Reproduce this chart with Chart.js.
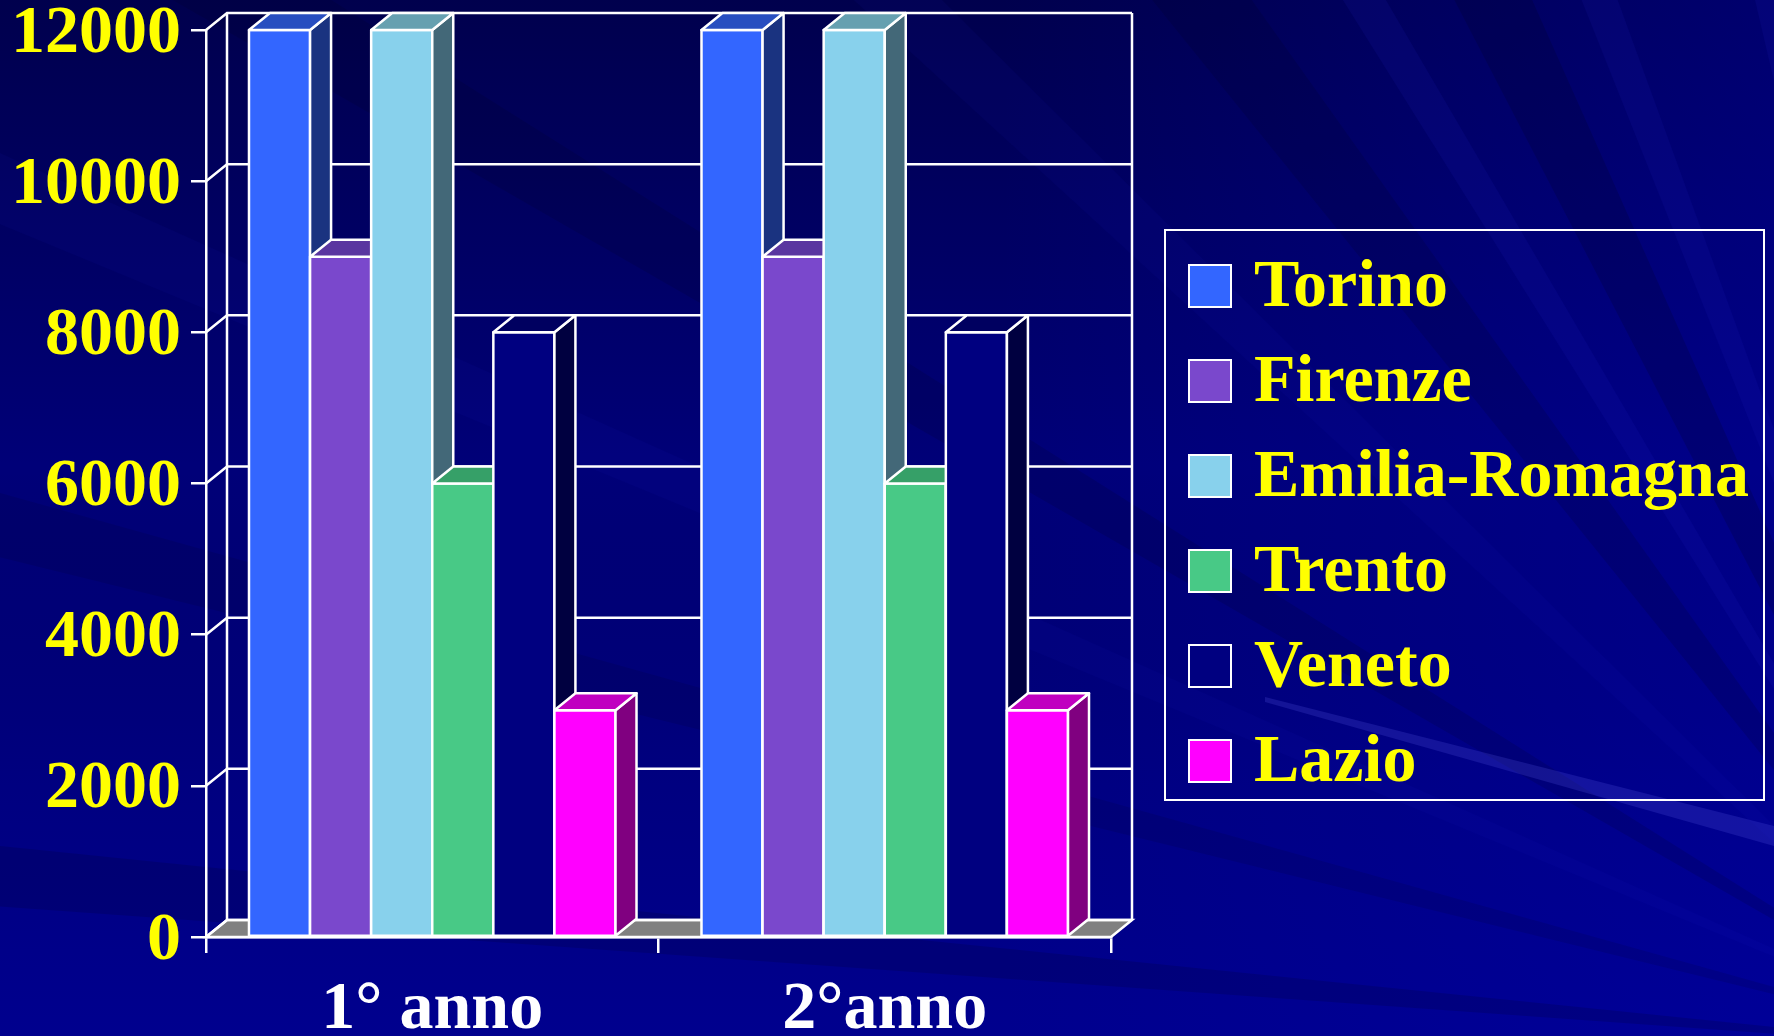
<!DOCTYPE html>
<html>
<head>
<meta charset="utf-8">
<script src="https://cdn.jsdelivr.net/npm/chart.js@4.4.0/dist/chart.umd.min.js"></script>
<style>
  html, body { margin: 0; padding: 0; background: #000078; overflow: hidden; }
  canvas { display: block; }
</style>
</head>
<body>
<canvas id="grafico" width="1774" height="1036"></canvas>
<script>
// dati
const categorie = ['1° anno', '2°anno'];
const regioni = ['Torino', 'Firenze', 'Emilia-Romagna', 'Trento', 'Veneto', 'Lazio'];
const torino  = [12000, 12000];
const firenze = [9000, 9000];
const emilia  = [12000, 12000];
const trento  = [6000, 6000];
const veneto  = [8000, 8000];
const lazio   = [3000, 3000];
const yTicks = [0, 2000, 4000, 6000, 8000, 10000, 12000];
const yTickLabels = ['0', '2000', '4000', '6000', '8000', '10000', '12000'];

// colori: fronte, lato, cima
const coloriFronte = ['#3366ff', '#7a48cc', '#88d1ec', '#48c986', '#000080', '#ff00ff'];
const coloriLato   = ['#1a3380', '#4a2a80', '#436878', '#24644a', '#000040', '#800080'];
const coloriCima   = ['#284ec0', '#5a36a0', '#66a0b0', '#36a068', '#000060', '#c000c0'];

// profondità 3D
const DX = 21, DY = -17;
const FONT = '"Liberation Serif", "Times New Roman", serif';

function poligono(ctx, punti) {
  ctx.beginPath();
  ctx.moveTo(punti[0][0], punti[0][1]);
  for (let k = 1; k < punti.length; k++) ctx.lineTo(punti[k][0], punti[k][1]);
  ctx.closePath();
  ctx.fill();
  ctx.stroke();
}

// sfondo blu con raggi
const sfondo = {
  id: 'sfondo',
  beforeDraw(chart) {
    const { ctx, width, height } = chart;
    ctx.save();
    ctx.fillStyle = '#000078';
    ctx.fillRect(0, 0, width, height);
    const gv = ctx.createLinearGradient(0, 0, 0, height);
    gv.addColorStop(0, 'rgba(0,0,25,0.45)');
    gv.addColorStop(0.45, 'rgba(0,0,25,0)');
    gv.addColorStop(0.75, 'rgba(0,0,170,0.15)');
    gv.addColorStop(1, 'rgba(0,0,175,0.40)');
    ctx.fillStyle = gv;
    ctx.fillRect(0, 0, width, height);
    const go = ctx.createLinearGradient(1000, 0, width, 0);
    go.addColorStop(0, 'rgba(0,0,170,0)');
    go.addColorStop(1, 'rgba(0,0,170,0.35)');
    ctx.fillStyle = go;
    ctx.fillRect(1000, 0, width - 1000, height);
    // raggi tenui dal basso a destra
    const cx = 2000, cy = 1050;
    const raggi = [
      [-1.80, -1.76, 'rgba(40,40,220,0.10)'],
      [-1.95, -1.92, 'rgba(40,40,220,0.09)'],
      [-2.05, -1.99, 'rgba(0,0,30,0.18)'],
      [-2.13, -2.10, 'rgba(40,40,220,0.10)'],
      [-2.25, -2.19, 'rgba(0,0,30,0.15)'],
      [-2.40, -2.36, 'rgba(40,40,220,0.06)'],
      [-2.62, -2.58, 'rgba(0,0,30,0.14)'],
      [-2.75, -2.72, 'rgba(40,40,220,0.06)'],
      [-2.90, -2.87, 'rgba(0,0,30,0.12)'],
      [-3.07, -3.04, 'rgba(0,0,30,0.16)']
    ];
    raggi.forEach(r => {
      ctx.fillStyle = r[2];
      ctx.beginPath();
      ctx.moveTo(cx, cy);
      ctx.lineTo(cx + 3000 * Math.cos(r[0]), cy + 3000 * Math.sin(r[0]));
      ctx.lineTo(cx + 3000 * Math.cos(r[1]), cy + 3000 * Math.sin(r[1]));
      ctx.closePath();
      ctx.fill();
    });
    // fascio chiaro in basso a destra
    ctx.fillStyle = 'rgba(90,90,230,0.22)';
    ctx.beginPath();
    ctx.moveTo(1265, 697);
    ctx.lineTo(1774, 826);
    ctx.lineTo(1774, 846);
    ctx.lineTo(1265, 702);
    ctx.closePath();
    ctx.fill();
    ctx.restore();
  }
};

// pareti, pavimento e griglia sul fondo
const pareti = {
  id: 'pareti',
  beforeDatasetsDraw(chart) {
    const { ctx, chartArea: a, scales: { y } } = chart;
    ctx.save();
    ctx.strokeStyle = '#ffffff';
    ctx.lineWidth = 2.5;
    ctx.fillStyle = '#808080';
    poligono(ctx, [[a.left, a.bottom], [a.right, a.bottom], [a.right + DX, a.bottom + DY], [a.left + DX, a.bottom + DY]]);
    yTicks.forEach(v => {
      const py = y.getPixelForValue(v);
      ctx.beginPath();
      ctx.moveTo(a.left, py);
      ctx.lineTo(a.left + DX, py + DY);
      ctx.lineTo(a.right + DX, py + DY);
      ctx.stroke();
    });
    ctx.beginPath();
    ctx.moveTo(a.left + DX, a.top + DY);
    ctx.lineTo(a.left + DX, a.bottom + DY);
    ctx.moveTo(a.right + DX, a.top + DY);
    ctx.lineTo(a.right + DX, a.bottom + DY);
    ctx.stroke();
    ctx.restore();
  }
};

// barre 3D: fronte, lato e cima, da sinistra a destra
const barre3d = {
  id: 'barre3d',
  afterDatasetsDraw(chart) {
    const ctx = chart.ctx;
    ctx.save();
    ctx.strokeStyle = '#ffffff';
    ctx.lineWidth = 2.5;
    ctx.lineJoin = 'round';
    chart.data.datasets.forEach((ds, i) => {
      chart.getDatasetMeta(i).data.forEach(bar => {
        const p = bar.getProps(['x', 'y', 'base', 'width'], true);
        const x0 = p.x - p.width / 2, x1 = p.x + p.width / 2;
        ctx.fillStyle = coloriFronte[i];
        poligono(ctx, [[x0, p.y], [x1, p.y], [x1, p.base], [x0, p.base]]);
        ctx.fillStyle = coloriLato[i];
        poligono(ctx, [[x1, p.y], [x1 + DX, p.y + DY], [x1 + DX, p.base + DY], [x1, p.base]]);
        ctx.fillStyle = coloriCima[i];
        poligono(ctx, [[x0, p.y], [x0 + DX, p.y + DY], [x1 + DX, p.y + DY], [x1, p.y]]);
      });
    });
    ctx.restore();
  }
};

// legenda con riquadro
const legenda = {
  id: 'legenda',
  afterDraw(chart) {
    const ctx = chart.ctx;
    const bx = 1165, by = 230, bw = 599, bh = 570;
    ctx.save();
    ctx.strokeStyle = '#ffffff';
    ctx.lineWidth = 2;
    ctx.strokeRect(bx, by, bw, bh);
    ctx.font = 'bold 68px ' + FONT;
    ctx.textBaseline = 'middle';
    chart.data.datasets.forEach((ds, i) => {
      const cy = 286 + i * 95;
      ctx.fillStyle = ds.backgroundColor;
      ctx.fillRect(1189, cy - 21, 42, 42);
      ctx.strokeRect(1189, cy - 21, 42, 42);
      ctx.fillStyle = '#ffff00';
      ctx.fillText(ds.label, 1254, cy + 2);
    });
    ctx.restore();
  }
};

const serie = [torino, firenze, emilia, trento, veneto, lazio];

new Chart(document.getElementById('grafico'), {
  type: 'bar',
  data: {
    labels: categorie,
    datasets: regioni.map((nome, i) => ({
      label: nome,
      data: serie[i],
      backgroundColor: coloriFronte[i],
      borderColor: '#ffffff',
      borderWidth: 2,
      borderSkipped: false,
      categoryPercentage: 0.81,
      barPercentage: 1
    }))
  },
  options: {
    responsive: false,
    animation: false,
    layout: { padding: { left: 0, top: 30, right: 663, bottom: 0 } },
    plugins: { legend: { display: false }, tooltip: { enabled: false } },
    scales: {
      x: {
        ticks: { color: '#ffffff', font: { family: FONT, weight: 'bold', size: 68, lineHeight: 1 }, padding: 23 },
        grid: { offset: true, drawOnChartArea: false, color: '#ffffff', lineWidth: 2.5, tickLength: 16 },
        border: { color: '#ffffff', width: 2.5 },
        afterFit(scale) { scale.height = 99; }
      },
      y: {
        min: 0,
        max: 12000,
        afterBuildTicks(scale) { scale.ticks = yTicks.map(v => ({ value: v })); },
        ticks: {
          color: '#ffff00',
          font: { family: FONT, weight: 'bold', size: 68, lineHeight: 0.5 },
          padding: 10,
          labelOffset: 4,
          callback: (v, idx) => yTickLabels[idx]
        },
        grid: { drawOnChartArea: false, color: '#ffffff', lineWidth: 2.5, tickLength: 15 },
        border: { color: '#ffffff', width: 2.5 },
        afterFit(scale) { scale.width = 206; }
      }
    }
  },
  plugins: [sfondo, pareti, barre3d, legenda]
});
</script>
</body>
</html>
